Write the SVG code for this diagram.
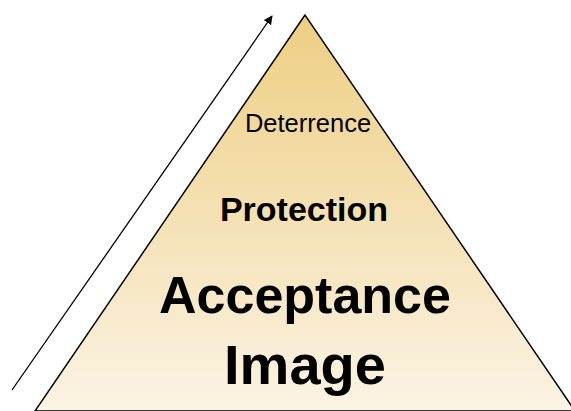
<svg xmlns="http://www.w3.org/2000/svg" width="571" height="411" viewBox="0 0 571 411">
<style>
.t{font-family:"Liberation Sans",Arial,sans-serif;fill:#000;text-anchor:middle}
.b{font-weight:bold}
</style>
<defs>
<linearGradient id="g" x1="0" y1="0" x2="0" y2="1">
<stop offset="0" stop-color="#EDCE82"/>
<stop offset="1" stop-color="#FBF3E4"/>
</linearGradient>
<marker id="ah" viewBox="0 0 10 10" refX="9" refY="5" markerWidth="9" markerHeight="9" markerUnits="userSpaceOnUse" orient="auto">
<path d="M0,0 L10,5 L0,10 Z" fill="#000"/>
</marker>
</defs>
<g id="pyramid">
<polygon points="305,15 35,411 575,411" fill="url(#g)" stroke="#000" stroke-width="1.5"/>
</g>
<g id="labels">
<text class="t" x="308" y="132" font-size="25.5">Deterrence</text>
<text class="t b" x="304" y="221" font-size="34">Protection</text>
<text class="t b" x="305" y="313" font-size="52">Acceptance</text>
<text class="t b" x="305" y="384" font-size="56">Image</text>
</g>
<g id="connectors">
<line x1="12" y1="390" x2="272" y2="16" stroke="#000" stroke-width="1.3" marker-end="url(#ah)"/>
</g>
</svg>
